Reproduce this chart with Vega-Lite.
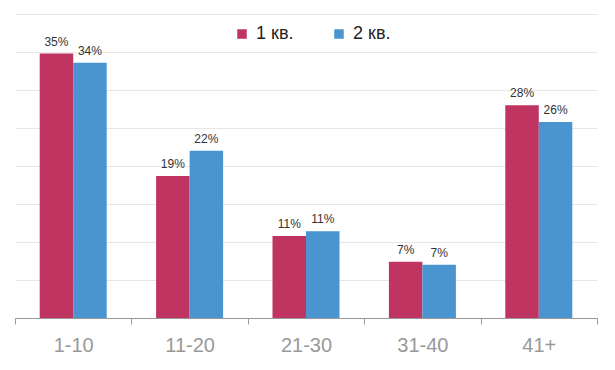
{
  "$schema": "https://vega.github.io/schema/vega-lite/v6.json",
  "width": 582,
  "height": 304,
  "autosize": {"type": "none"},
  "padding": {"left": 15, "top": 14, "right": 18, "bottom": 52},
  "background": "white",
  "config": {"view": {"stroke": null}, "font": "Liberation Sans"},
  "data": {
    "values": [
      {"group": "1-10", "series": "1 кв.", "value": 0.348},
      {"group": "1-10", "series": "2 кв.", "value": 0.336},
      {"group": "11-20", "series": "1 кв.", "value": 0.187},
      {"group": "11-20", "series": "2 кв.", "value": 0.220},
      {"group": "21-30", "series": "1 кв.", "value": 0.108},
      {"group": "21-30", "series": "2 кв.", "value": 0.114},
      {"group": "31-40", "series": "1 кв.", "value": 0.074},
      {"group": "31-40", "series": "2 кв.", "value": 0.070},
      {"group": "41+", "series": "1 кв.", "value": 0.280},
      {"group": "41+", "series": "2 кв.", "value": 0.258}
    ]
  },
  "encoding": {
    "x": {
      "field": "group",
      "type": "nominal",
      "sort": null,
      "scale": {"paddingInner": 0, "paddingOuter": 0},
      "axis": {
        "title": null,
        "labelAngle": 0,
        "labelFontSize": 20,
        "labelColor": "#999999",
        "labelPadding": 11,
        "tickBand": "extent",
        "tickSize": 6,
        "tickColor": "#999999",
        "domainColor": "#999999",
        "grid": false
      }
    },
    "xOffset": {
      "field": "series",
      "type": "nominal",
      "scale": {"paddingInner": 0, "paddingOuter": 0.737}
    },
    "y": {
      "field": "value",
      "type": "quantitative",
      "scale": {"domain": [0, 0.4], "nice": false},
      "axis": {
        "title": null,
        "labels": false,
        "ticks": false,
        "domain": false,
        "values": [0, 0.05, 0.1, 0.15, 0.2, 0.25, 0.3, 0.35, 0.4],
        "gridColor": "#e6e6e6",
        "gridWidth": 1
      }
    }
  },
  "layer": [
    {
      "mark": {"type": "bar"},
      "encoding": {
        "color": {
          "field": "series",
          "type": "nominal",
          "scale": {"domain": ["1 кв.", "2 кв."], "range": ["#c03462", "#4a95d0"]},
          "legend": {
            "title": null,
            "orient": "none",
            "legendX": 218,
            "legendY": 11,
            "direction": "horizontal",
            "symbolType": "square",
            "symbolSize": 90,
            "symbolStrokeWidth": 0,
            "labelFontSize": 18,
            "labelColor": "#222222",
            "labelOffset": 5,
            "columnPadding": 36
          }
        }
      }
    },
    {
      "mark": {"type": "text", "baseline": "alphabetic", "dy": -8, "fontSize": 12, "color": "#333333"},
      "encoding": {
        "text": {"field": "value", "type": "quantitative", "format": ".0%"}
      }
    }
  ]
}
